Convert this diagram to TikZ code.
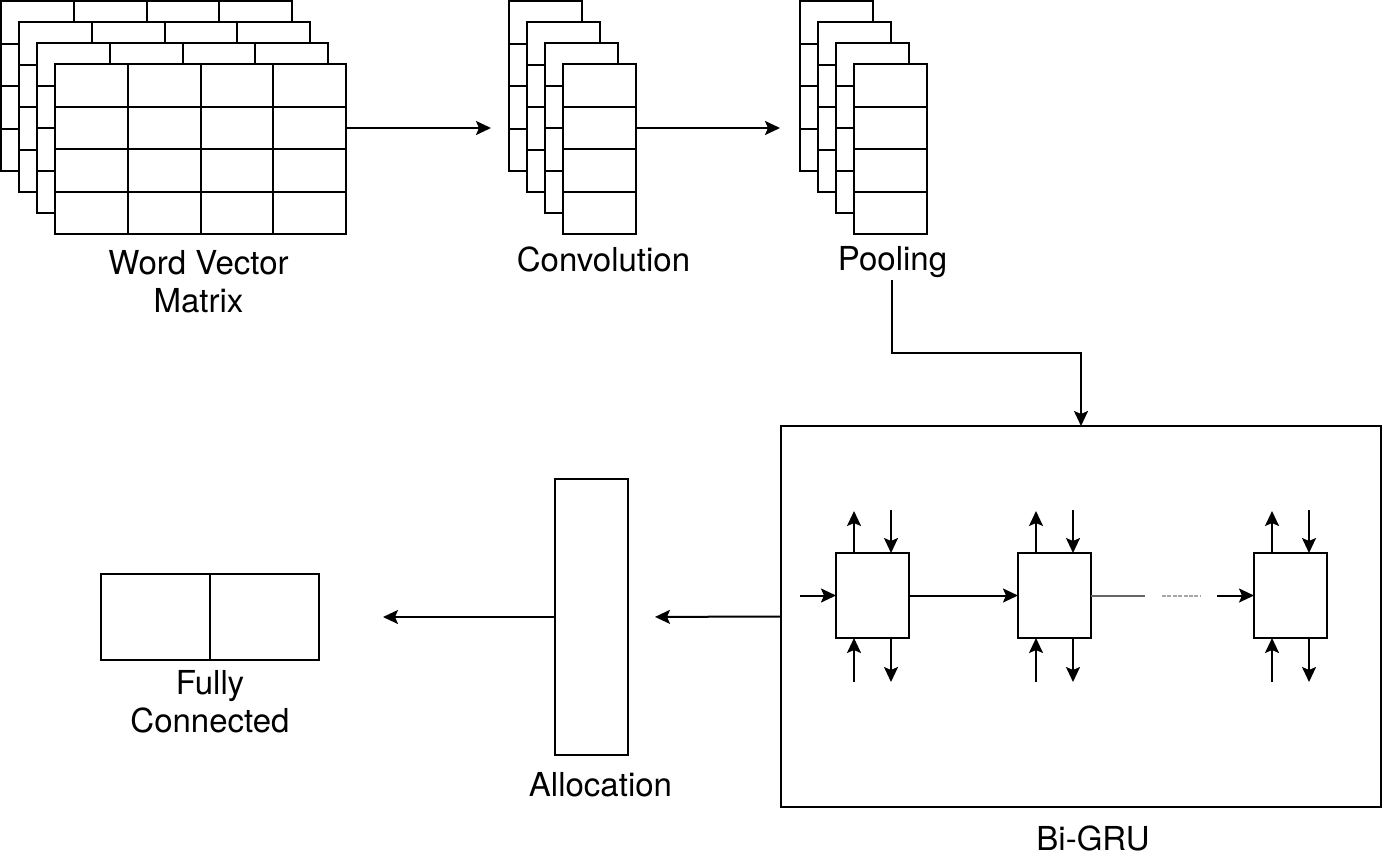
\documentclass[tikz,border=0pt]{standalone}
\usepackage{fontspec}
\setmainfont{TeX Gyre Heros}
\usetikzlibrary{arrows.meta}
\usetikzlibrary{positioning}
\usetikzlibrary{calc}

\tikzset{
	layer/.style={draw,fill=white,line width=1pt,anchor=north west,minimum height=85pt,inner sep=0pt,outer sep=0pt},
	box/.style={draw,fill=white,line width=1pt,inner sep=0pt,outer sep=0pt},
	lbl/.style={font=\fontsize{16.5}{19}\selectfont,align=center,inner sep=1pt},
	flow/.style={-{Stealth[length=7.5pt,width=7pt,inset=1.5pt]},line width=1pt},
}

\begin{document}
\begin{tikzpicture}[x=0.5pt,y=-0.5pt]
	\useasboundingbox (0,0) rectangle (1384,867);
	
	% word vector matrix, 4 layers of 4x4
	\foreach \i in {0,...,3} {
		\node[layer,minimum width=145.5pt] (wvm\i) at (1+18*\i,1+21*\i) {};
		\foreach \f in {0.25,0.5,0.75} {
			\draw[line width=1pt] ($(wvm\i.north west)!\f!(wvm\i.south west)$) -- ($(wvm\i.north east)!\f!(wvm\i.south east)$);
			\draw[line width=1pt] ($(wvm\i.north west)!\f!(wvm\i.north east)$) -- ($(wvm\i.south west)!\f!(wvm\i.south east)$);
		}
	}
	
	% convolution and pooling, 4 layers of one column
	\foreach \i in {0,...,3} {
		\node[layer,minimum width=36.5pt] (conv\i) at (509+18*\i,1+21*\i) {};
		\node[layer,minimum width=36.5pt] (pool\i) at (800+18*\i,1+21*\i) {};
		\foreach \f in {0.25,0.5,0.75} {
			\draw[line width=1pt] ($(conv\i.north west)!\f!(conv\i.south west)$) -- ($(conv\i.north east)!\f!(conv\i.south east)$);
			\draw[line width=1pt] ($(pool\i.north west)!\f!(pool\i.south west)$) -- ($(pool\i.north east)!\f!(pool\i.south east)$);
		}
	}
	
	\node[lbl,below=7pt of wvm3,xshift=-1pt] (wvmlbl) {Word Vector\\Matrix};
	\node[lbl,below=5pt of conv3,xshift=2pt] (convlbl) {Convolution};
	\node[lbl,below=5pt of pool3,xshift=1pt] (poollbl) {Pooling};
	
	\draw[flow,shorten >=9pt] (wvm3.east |- wvm2.center) -- (conv0.west |- wvm2.center);
	\draw[flow,shorten >=10pt] (conv3.east |- conv2.center) -- (pool0.west |- conv2.center);
	
	% Bi-GRU
	\node[box,minimum width=300pt,minimum height=190.5pt] (bigru) at (1081,616.5) {};
	\node[lbl,below=8pt of bigru,xshift=6pt] (grulbl) {Bi-GRU};
	\draw[flow] ([xshift=-0.5pt]poollbl.south) |- ($(poollbl.south)!0.5!(bigru.north)$) -| (bigru.north);
	
	\foreach \n/\x in {1/872.5,2/1054.5,3/1290.5} {
		\node[box,minimum width=36.5pt,minimum height=42.5pt] (gru\n) at (\x,595.5) {};
		\draw[flow] ([xshift=-9.25pt]gru\n.north) -- ([xshift=-9.25pt,yshift=21pt]gru\n.north);
		\draw[flow] ([xshift=9.25pt,yshift=21.5pt]gru\n.north) -- ([xshift=9.25pt]gru\n.north);
		\draw[flow] ([xshift=-9.25pt,yshift=-22pt]gru\n.south) -- ([xshift=-9.25pt]gru\n.south);
		\draw[flow] ([xshift=9.25pt]gru\n.south) -- ([xshift=9.25pt,yshift=-22pt]gru\n.south);
	}
	\draw[flow] ([xshift=-18pt]gru1.west) -- (gru1.west);
	\draw[flow] (gru1) -- (gru2);
	\draw[gray!80!black,line width=1pt] (gru2.east) -- ([xshift=27pt]gru2.east);
	\draw[gray!70,line width=1pt,dash pattern=on 2pt off 0.7pt] ([xshift=35.5pt]gru2.east) -- ([xshift=54.5pt]gru2.east);
	\draw[flow] ([xshift=-18.5pt]gru3.west) -- (gru3.west);
	
	% allocation
	\node[box,minimum width=36.5pt,minimum height=138pt] (alloc) at (591.5,617) {};
	\node[lbl,below=7.5pt of alloc,xshift=4.5pt] (alloclbl) {Allocation};
	\draw[flow,shorten >=13.5pt] (bigru.west) -- (alloc.east);
	
	% fully connected
	\node[box,minimum width=54.5pt,minimum height=43pt] (fc1) at (155.5,617) {};
	\node[box,minimum width=54.5pt,minimum height=43pt,right=0pt of fc1] (fc2) {};
	\node[lbl,below=4pt of fc1.south east] (fclbl) {Fully\\Connected};
	\draw[flow,shorten >=32pt] (alloc.west) -- (fc2.east);
\end{tikzpicture}
\end{document}
